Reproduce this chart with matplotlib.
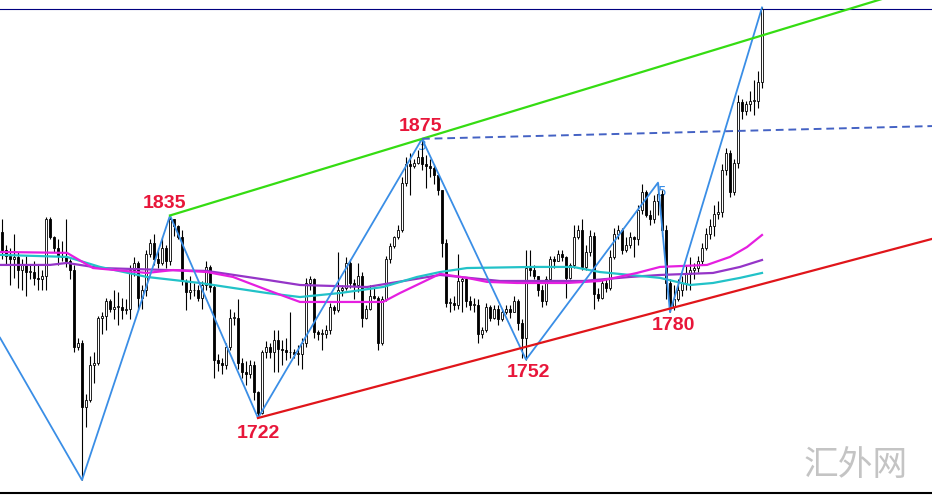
import numpy as np
import matplotlib.pyplot as plt

# candle data (price), open of each bar = previous close
first_open = 1824
closes = [1814,1811,1809,1810,1803,1806,1802,1802,1799,1798,
          1800,1831,1821,1815,1811,1810,1808,1803,1761,1763,
          1728,1732,1751,1752,1777,1778,1786,1782,1783,1783,
          1781,1782,1803,1807,1788,1792,1812,1818,1809,1807,
          1815,1808,1831,1827,1821,1797,1791,1792,1792,1788,
          1795,1805,1794,1754,1752,1751,1761,1777,1777,1752,
          1747,1746,1751,1736,1725,1758,1761,1758,1765,1760,
          1759,1758,1758,1757,1757,1763,1796,1798,1769,1768,
          1768,1770,1783,1781,1792,1793,1807,1796,1795,1800,
          1777,1782,1789,1788,1763,1787,1809,1816,1821,1825,
          1851,1861,1860,1862,1865,1861,1860,1859,1855,1847,
          1818,1785,1785,1784,1797,1798,1786,1784,1784,1768,
          1770,1783,1777,1782,1776,1780,1782,1780,1786,1774,
          1766,1804,1803,1800,1792,1786,1798,1809,1808,1812,
          1810,1799,1806,1821,1825,1805,1813,1822,1790,1788,
          1796,1793,1810,1823,1825,1814,1817,1821,1820,1836,
          1846,1833,1831,1841,1845,1825,1796,1783,1787,1792,
          1796,1801,1803,1804,1808,1815,1823,1827,1834,1835,
          1858,1867,1846,1862,1895,1890,1894,1896,1896,1906,
          1946]
highs = [1831,1817,1815,1823,1813,1809,1811,1806,1808,1806,
         1803,1832,1832,1822,1820,1819,1831,1809,1806,1766,
         1765,1735,1756,1758,1778,1780,1788,1787,1792,1791,
         1788,1787,1806,1810,1808,1795,1814,1820,1823,1815,
         1821,1817,1833,1831,1828,1825,1798,1800,1796,1795,
         1797,1808,1806,1795,1757,1755,1763,1782,1780,1787,
         1755,1753,1754,1753,1737,1759,1764,1763,1770,1770,
         1765,1766,1780,1760,1762,1766,1799,1800,1799,1770,
         1771,1773,1785,1784,1813,1795,1810,1809,1798,1807,
         1802,1784,1795,1793,1789,1789,1811,1818,1822,1828,
         1854,1865,1867,1864,1869,1875,1866,1864,1861,1855,
         1847,1820,1788,1789,1812,1800,1799,1789,1788,1787,
         1772,1785,1784,1784,1784,1782,1784,1784,1789,1787,
         1776,1814,1814,1806,1800,1795,1800,1811,1811,1814,
         1814,1811,1807,1828,1828,1831,1817,1825,1824,1793,
         1798,1798,1814,1826,1828,1826,1821,1824,1822,1839,
         1850,1847,1836,1844,1851,1847,1828,1798,1795,1798,
         1800,1806,1810,1807,1811,1818,1826,1831,1839,1841,
         1861,1870,1869,1864,1899,1897,1896,1901,1907,1912,
         1947]
lows = [1809,1806,1795,1799,1793,1792,1789,1798,1795,1792,
        1792,1792,1820,1813,1806,1808,1805,1798,1758,1759,
        1688,1717,1731,1741,1751,1768,1770,1780,1776,1773,
        1776,1779,1776,1800,1781,1782,1789,1810,1806,1804,
        1806,1804,1806,1822,1820,1795,1781,1787,1789,1786,
        1782,1792,1791,1744,1748,1746,1749,1759,1773,1749,
        1744,1740,1744,1732,1722,1724,1755,1755,1747,1747,
        1751,1754,1755,1755,1751,1749,1761,1792,1766,1765,
        1759,1766,1768,1779,1780,1789,1792,1793,1787,1791,
        1772,1776,1781,1787,1759,1762,1786,1807,1815,1820,
        1824,1849,1844,1859,1861,1858,1848,1854,1850,1844,
        1810,1783,1780,1781,1782,1780,1783,1781,1780,1763,
        1766,1769,1775,1776,1773,1775,1779,1777,1780,1770,
        1755,1754,1800,1798,1789,1783,1784,1796,1804,1808,
        1808,1788,1798,1804,1820,1803,1803,1811,1782,1786,
        1787,1791,1792,1809,1820,1812,1813,1815,1810,1817,
        1834,1832,1828,1829,1833,1822,1787,1780,1781,1786,
        1789,1792,1792,1798,1802,1806,1814,1820,1822,1831,
        1832,1855,1843,1844,1859,1886,1888,1890,1888,1892,
        1903]

# moving average lines (bar index, price)
ma1_x = [-0.5,16.25,22.75,36.25,42.75,51.25,57.75,66.25,74.5,95.25,99.5,109.5,116.25,
         121.25,128.75,141.25,149.5,158.75,164.5,176.25,182,186.25,190]
ma1_y = [1813,1812.5,1804.2,1801.5,1803.1,1802,1799.3,1792.2,1785.6,1785.6,1790.5,1801,
         1798.8,1796.6,1796,1796,1797.1,1801.5,1804.8,1805.9,1810.3,1815.7,1822.3]
ma2_x = [-0.5,12,16.25,24.5,41.25,51.25,66.25,74.5,91.25,109.5,124.5,145.25,157,164.5,
         177.75,184.5,190]
ma2_y = [1805.9,1805.9,1807,1804.2,1803.1,1802.6,1797.7,1794.9,1793.8,1800.4,1797.1,
         1797.1,1799.3,1800.4,1801.5,1804.8,1808.6]
ma3_x = [-0.5,16.25,24.5,36.25,49.5,66.25,74.5,84.5,95.25,103.75,109.5,116.25,132.75,
         142.75,149.5,157,164.5,172,177.75,184.5,190]
ma3_y = [1811.4,1810.3,1804.8,1799.3,1796,1790.5,1788.3,1790.5,1793.8,1799.3,1802,1804.2,
         1804.8,1804.8,1802,1800.4,1798.8,1794.9,1796,1798.8,1801.5]

# zigzag pivots
zz_x = [-0.5, 20, 42, 64, 105, 131, 164, 167, 190]
zz_y = [1766, 1688, 1833, 1722, 1875, 1754, 1851, 1780, 1947]
labels = ['1835', '1875', '1722', '1752', '1780']
label_x = [40.75, 104.75, 64, 131.5, 167.75]
label_y = [1839.3, 1881.5, 1713.3, 1747.2, 1772.5]

xmin, xmax = -0.5, 232.5
ymin, ymax = 1679.8, 1951.1

n = len(closes)
idx = np.arange(n)
closes = np.array(closes, float)
opens = np.concatenate([[first_open], closes[:-1]])
up = closes >= opens
bottom = np.minimum(opens, closes)
height = np.maximum(np.abs(closes - opens), 0.4)

fig = plt.figure(figsize=(9.32, 4.95), dpi=100)
ax = fig.add_axes([0, 0, 1, 1])

ax.vlines(idx, lows, highs, color='black', lw=0.8, zorder=2)
ax.bar(idx, height, bottom=bottom, width=0.7, color=np.where(up, 'white', 'black'),
       edgecolor='black', linewidth=0.6, zorder=3)

ax.plot(ma2_x, ma2_y, color='#9535c8', lw=1.6, zorder=4)
ax.plot(ma3_x, ma3_y, color='#22c2c8', lw=1.6, zorder=4)
ax.plot(ma1_x, ma1_y, color='#e51fe0', lw=1.6, zorder=4)

ax.plot(zz_x, zz_y, color='#3a8ee6', lw=1.3, zorder=5)

# trend lines
g_slope = (zz_y[4] - zz_y[2]) / (zz_x[4] - zz_x[2])
ax.plot([zz_x[2], xmax], [zz_y[2], zz_y[2] + g_slope * (xmax - zz_x[2])], color='#35dc12', lw=1.6, zorder=5)
r_slope = (1782 - zz_y[3]) / (zz_x[7] - zz_x[3])
ax.plot([zz_x[3], xmax], [zz_y[3], zz_y[3] + r_slope * (xmax - zz_x[3])], color='#e0151a', lw=1.6, zorder=5)
ax.plot([zz_x[4], xmax], [zz_y[4], 1882], color='#4462c4', lw=1.4, ls=(0, (4, 2.5)), zorder=5)

ax.axhline(closes[-1], color='#000080', lw=0.8, zorder=1)
ax.axhline(1681, color='black', lw=1.5, zorder=1)

for t, lx, ly in zip(labels, label_x, label_y):
    ax.text(lx, ly, t, color='#e8163a', fontsize=14, fontweight='bold',
            family='Liberation Sans', ha='center', va='center', zorder=6)
ax.text(105, 1871, '3', color='#3a8ee6', fontsize=10, ha='center', va='center', zorder=1)
ax.text(165.2, 1846, '5', color='#3a8ee6', fontsize=10, ha='center', va='center', zorder=1)

ax.text(0.918, 0.059, '汇外网', transform=ax.transAxes, color='#c4c4c4', fontsize=25,
        family=['Noto Sans CJK SC', 'DejaVu Sans'], ha='center', va='center')

ax.set_xlim(xmin, xmax)
ax.set_ylim(ymin, ymax)
ax.axis('off')

plt.savefig('out.png', dpi=100)
